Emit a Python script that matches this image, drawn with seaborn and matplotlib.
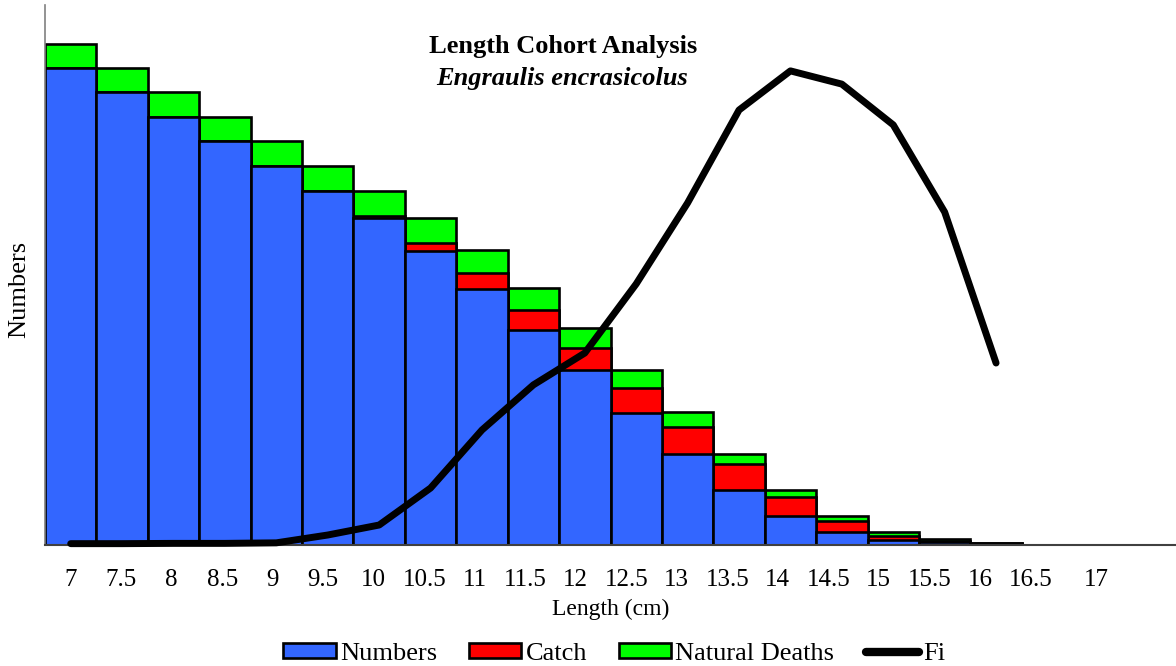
import numpy as np
import seaborn as sns
import matplotlib.pyplot as plt
from matplotlib.patches import Patch
from matplotlib.lines import Line2D

# length classes (cm), one bar slot each
lengths = ["7", "7.5", "8", "8.5", "9", "9.5", "10", "10.5", "11", "11.5", "12",
           "12.5", "13", "13.5", "14", "14.5", "15", "15.5", "16", "16.5", "17", "17.5"]
tick_labels = ["7", "7.5", "8", "8.5", "9", "9.5", "10", "10.5", "11", "11.5", "12",
               "12.5", "13", "13.5", "14", "14.5", "15", "15.5", "16", "16.5", "17"]

numbers = [477, 453, 428, 404, 379, 354, 327, 294, 256, 215, 175, 132, 91, 55, 29, 13, 5, 3, 1, 0, 0, 0]
catch = [0, 0, 0, 0, 0, 0, 2, 8, 16, 20, 22, 25, 27, 26, 19, 11, 4, 1.5, 0.6, 0, 0, 0]
deaths = [24, 24, 25, 24, 25, 25, 25, 25, 23, 22, 20, 18, 15, 10, 7, 5, 4, 1.5, 0.4, 0, 0, 0]

# fishing mortality per length class (7 .. 16 cm)
fi_lengths = lengths[:19]
fi = [0.005, 0.005, 0.006, 0.006, 0.008, 0.037, 0.074, 0.211, 0.426, 0.593, 0.711,
      0.967, 1.267, 1.611, 1.756, 1.707, 1.556, 1.233, 0.674]

blue, red, green = "#3366FF", "#FF0000", "#00FF00"

sns.set_style("white")
plt.rcParams["font.family"] = ["Liberation Serif", "DejaVu Serif"]
plt.rcParams["text.color"] = "black"
plt.rcParams["axes.labelcolor"] = "black"
plt.rcParams["xtick.color"] = "black"

fig = plt.figure(figsize=(11.76, 6.66), dpi=100)
ax = fig.add_axes([45 / 1176, 1 - 545 / 666, 1131 / 1176, 540 / 666])

n = np.array(numbers)
c = np.array(catch)
d = np.array(deaths)
bar_kw = dict(order=lengths, width=1.0, saturation=1, edgecolor="black", linewidth=1.9, ax=ax)
sns.barplot(x=lengths, y=n + c + d, color=green, **bar_kw)
sns.barplot(x=lengths, y=n + c, color=red, **bar_kw)
sns.barplot(x=lengths, y=n, color=blue, **bar_kw)

ax.set_xlim(-0.5, len(lengths) - 0.5)
ax.set_ylim(0, 540)
ax.set_yticks([])

# slot boundary ticks and the (slightly drifting) category labels
ax.set_xticks(np.arange(-0.5, len(lengths)), minor=True)
label_pos = [k * 0.9825 for k in range(20)] + [19.95]
ax.set_xticks(label_pos)
ax.set_xticklabels(tick_labels, fontsize=18)
ax.tick_params(axis="x", which="major", length=0, pad=17)
ax.tick_params(axis="x", which="minor", direction="out", length=6, width=1, color="#808080")

for s in ["top", "right"]:
    ax.spines[s].set_visible(False)
ax.spines["left"].set_color("#808080")
ax.spines["left"].set_linewidth(1.2)
ax.spines["bottom"].set_color("#404040")
ax.spines["bottom"].set_linewidth(1.5)

ax.set_xlabel("Length (cm)", fontsize=17, labelpad=6)
ax.set_ylabel("Numbers", fontsize=19)
ax.yaxis.set_label_coords(-15 / 1131, 256 / 540)

# Fi on a secondary axis
ax2 = ax.twinx()
sns.lineplot(x=np.arange(len(fi_lengths)), y=fi, color="black", linewidth=5, ax=ax2)
ax2.lines[0].set_clip_on(False)
ax2.set_ylim(0, 2.0)
ax2.set_yticks([])
ax2.set_ylabel("")
for s in ax2.spines.values():
    s.set_visible(False)

fig.text(563 / 1176, 1 - 47 / 666, "Length Cohort Analysis", ha="center", va="center",
         fontsize=19, fontweight="bold")
fig.text(562 / 1176, 1 - 78 / 666, "Engraulis encrasicolus", ha="center", va="center",
         fontsize=19, fontweight="bold", fontstyle="italic")

handles = [Patch(facecolor=blue, edgecolor="black", linewidth=1.9),
           Patch(facecolor=red, edgecolor="black", linewidth=1.9),
           Patch(facecolor=green, edgecolor="black", linewidth=1.9),
           Line2D([], [], color="black", linewidth=6)]
fig.legend(handles, ["Numbers", "Catch", "Natural Deaths", "Fi"], loc="center",
           bbox_to_anchor=(614 / 1176, 1 - 654 / 666), ncol=4, frameon=False,
           fontsize=19, handlelength=2.0, handleheight=0.5, handletextpad=0.15,
           columnspacing=1.2)

fig.savefig("out.png", dpi=100)
